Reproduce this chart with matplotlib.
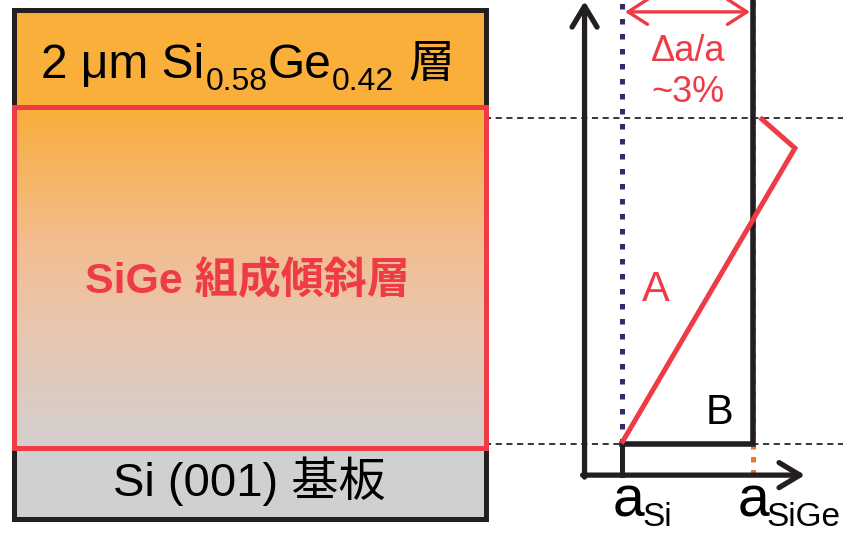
import matplotlib
matplotlib.use("Agg")

import matplotlib.pyplot as plt
import numpy as np
from matplotlib.colors import LinearSegmentedColormap
from matplotlib.patches import Rectangle

plt.rcParams['font.family'] = ['Liberation Sans', 'Noto Sans CJK JP']

# ------------------------------------------------------------
# DATA
# lattice constant axis: a_Si = 0, a_SiGe = 1
# height axis: substrate surface = 0, top of graded layer = 1
# ------------------------------------------------------------
a_si = 0.0
a_sige = 1.0
graded_bottom = 0.0
graded_top = 1.0

# stack of layers (bottom edge, top edge)
stack_edges = [-0.233, -0.015, 1.031, 1.330]
substrate_label = "Si (001) 基板"
graded_label = "SiGe 組成傾斜層"
cap_label = ["2 μm Si", "0.58", "Ge", "0.42", "層"]

# path A: graded relaxation with overshoot, path B: abrupt
path_A_a = [0.0, 1.324, 1.057]
path_A_h = [0.0, 0.906, 1.0]
path_B_a = [0.0, 1.0, 1.0]
path_B_h = [0.0, 0.0, 1.36]

mismatch_label = ["Δa/a", "~3%"]

# ------------------------------------------------------------
# COLOURS
# ------------------------------------------------------------
BLACK = "#231f20"
RED = "#ee3b45"
ORANGE = "#faaf3b"
GRAY = "#d0d0d2"
NAVY = "#2e2b6e"
DOT_ORANGE = "#e67a30"

grad_cmap = LinearSegmentedColormap.from_list(
    "graded", [(0.0, "#d3cfce"), (0.37, "#e9c6ae"), (0.61, "#f3bc8e"), (1.0, "#f9ae3a")])

# ------------------------------------------------------------
# FIGURE
# ------------------------------------------------------------
fig = plt.figure(figsize=(8.43, 5.33), dpi=100)
ax = fig.add_axes([0, 0, 1, 1])
ax.set_xlim(-621.5 / 131, (843 - 621.5) / 131)
ax.set_ylim((443.5 - 533) / 326, 443.5 / 326)
ax.axis("off")

# ---- layer stack (left) ----
x_left, x_right = -4.641, -1.038
sub_b, grd_b, grd_t, cap_t = stack_edges

ax.add_patch(Rectangle((x_left, sub_b), x_right - x_left, grd_b - sub_b,
                       facecolor=GRAY, edgecolor="none", zorder=1))
ax.add_patch(Rectangle((x_left, grd_t), x_right - x_left, cap_t - grd_t,
                       facecolor=ORANGE, edgecolor="none", zorder=1))
grad = np.linspace(0, 1, 256).reshape(-1, 1)
ax.imshow(grad, cmap=grad_cmap, origin="lower", aspect="auto",
          extent=(x_left, x_right, grd_b, grd_t), zorder=1)
ax.add_patch(Rectangle((x_left, sub_b), x_right - x_left, cap_t - sub_b,
                       facecolor="none", edgecolor=BLACK, lw=3.6, zorder=2))
ax.add_patch(Rectangle((x_left, grd_b), x_right - x_left, grd_t - grd_b,
                       facecolor="none", edgecolor=RED, lw=3.6, zorder=3))

ax.text(-2.844, -0.115, substrate_label, fontsize=34, ha="center", va="center",
        color="black", zorder=4)
ax.text(-2.859, 0.498, graded_label, fontsize=31, fontweight="bold",
        ha="center", va="center", color=RED, zorder=4)

# cap layer label, written piece by piece so the subscripts sit low
ax.text(-4.431, 1.121, cap_label[0], fontsize=34.5, ha="left", va="baseline", zorder=4)
ax.text(-3.172, 1.084, cap_label[1], fontsize=23, ha="left", va="baseline", zorder=4)
ax.text(-2.698, 1.121, cap_label[2], fontsize=34.5, ha="left", va="baseline", zorder=4)
ax.text(-2.210, 1.084, cap_label[3], fontsize=23, ha="left", va="baseline", zorder=4)
ax.text(-1.454, 1.124, cap_label[4], fontsize=33, ha="center", va="baseline", zorder=4)

# ---- dashed guides at substrate surface and graded-layer top ----
for h in (graded_bottom, graded_top):
    ax.plot([-1.042, 1.75], [h, h], color="black", lw=1.1,
            linestyle=(0, (4, 3)), zorder=2)

# ---- lattice constant diagram (right) ----
ax_x0, ax_y0 = -0.282, -0.097
ax.annotate("", xy=(ax_x0, 1.357), xytext=(ax_x0, ax_y0 - 0.006),
            arrowprops=dict(arrowstyle="->,head_length=0.75,head_width=0.45",
                            lw=3.8, color=BLACK, mutation_scale=20,
                            shrinkA=0, shrinkB=0),
            zorder=5)
ax.annotate("", xy=(1.401, ax_y0), xytext=(ax_x0 - 0.015, ax_y0),
            arrowprops=dict(arrowstyle="->,head_length=0.75,head_width=0.45",
                            lw=3.8, color=BLACK, mutation_scale=20,
                            shrinkA=0, shrinkB=0),
            zorder=5)

# a_Si reference line and tick
ax.plot([a_si, a_si], [graded_bottom, 1.37], color=NAVY, lw=3.6,
        linestyle=(0, (1.1, 1.9)), dash_capstyle="butt", zorder=3)
ax.plot([a_si, a_si], [ax_y0, graded_bottom], color=BLACK, lw=3.6, zorder=4)

# a_SiGe reference line
ax.plot([a_sige, a_sige], [ax_y0, 1.37], color=DOT_ORANGE, lw=3.6,
        linestyle=(0, (1.1, 1.5)), dash_capstyle="butt", zorder=3)

# path B (abrupt) and path A (graded)
ax.plot(path_B_a, path_B_h, color=BLACK, lw=4.0, solid_joinstyle="miter", zorder=4)
ax.plot(path_A_a, path_A_h, color=RED, lw=3.6, solid_joinstyle="miter",
        solid_capstyle="butt", zorder=5)

ax.text(0.263, 0.471, "A", fontsize=30, ha="center", va="center", color=RED)
ax.text(0.75, 0.094, "B", fontsize=30, ha="center", va="center", color="black")

# mismatch arrow
ax.annotate("", xy=(0.981, 1.324), xytext=(0.027, 1.324),
            arrowprops=dict(arrowstyle="<->,head_length=0.7,head_width=0.45",
                            lw=2.4, color=RED, mutation_scale=20,
                            shrinkA=0, shrinkB=0),
            zorder=5)
ax.text(0.508, 1.202, mismatch_label[0], fontsize=26, ha="center", va="center", color=RED)
ax.text(0.508, 1.076, mismatch_label[1], fontsize=26, ha="center", va="center", color=RED)

# axis labels under the lattice constants
ax.text(a_si - 0.065, -0.225, "a", fontsize=41, ha="left", va="baseline")
ax.text(a_si + 0.157, -0.253, "Si", fontsize=24, ha="left", va="baseline")
ax.text(a_sige - 0.11, -0.225, "a", fontsize=41, ha="left", va="baseline")
ax.text(a_sige + 0.11, -0.253, "SiGe", fontsize=24, ha="left", va="baseline")

fig.savefig("out.png", dpi=100)
